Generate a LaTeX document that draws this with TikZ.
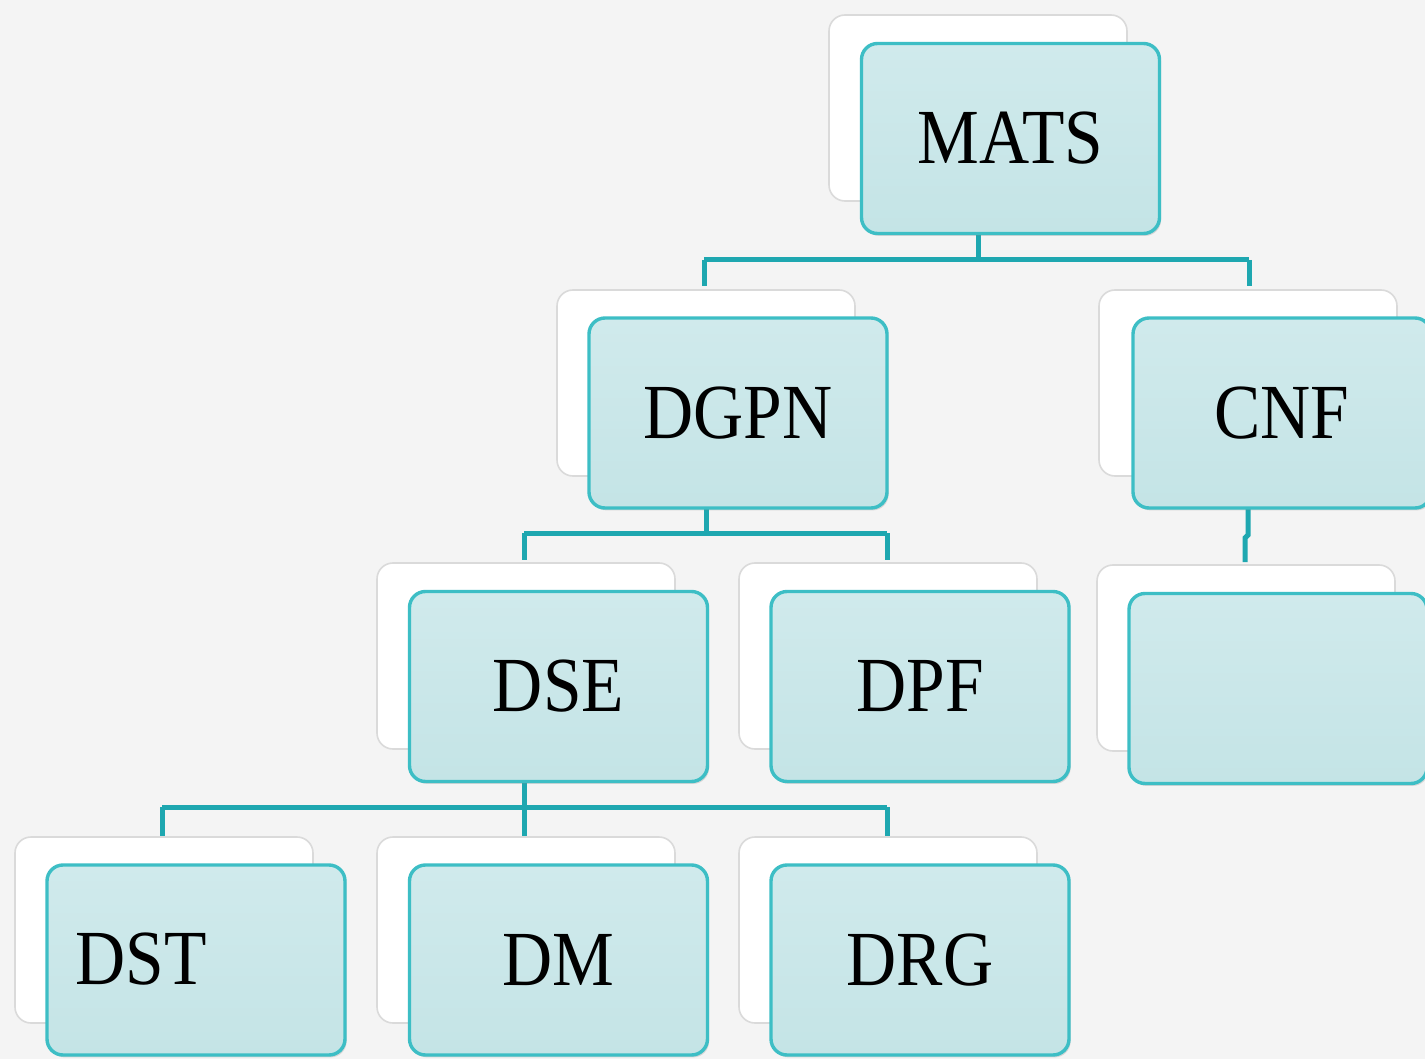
\documentclass[tikz,border=0pt]{standalone}
\usepackage{fontspec}
\setmainfont{Liberation Serif}
\usepackage{graphicx}
\usetikzlibrary{shadows}
\definecolor{bg}{HTML}{F4F4F4}
\definecolor{boxfill}{HTML}{C4E4E6}
\definecolor{boxtop}{HTML}{D0EAEC}
\definecolor{boxedge}{HTML}{3DBEC5}
\definecolor{connc}{HTML}{1EA7B0}
\definecolor{shedge}{HTML}{DADADA}
\tikzset{
  frontbox/.style={draw=boxedge, line width=1.7pt, rounded corners=8pt,
    top color=boxtop, bottom color=boxfill, minimum width=149pt, minimum height=95pt,
    inner sep=0pt, outer sep=0pt, font=\fontsize{39}{39}\selectfont,
    drop shadow={shadow xshift=0.8pt, shadow yshift=-1.2pt, opacity=0.25}},
  backbox/.style={draw=shedge, line width=0.8pt, fill=white, rounded corners=8pt,
    minimum width=149pt, minimum height=93pt, inner sep=0pt, outer sep=0pt},
  conn/.style={draw=connc, line width=2.5pt},
  lbl/.style={inner sep=0pt, font=\fontsize{39}{39}\selectfont}
}
\newcommand{\sq}[1]{\scalebox{0.89}[1]{#1}}
\begin{document}
\begin{tikzpicture}[x=0.5pt,y=-0.5pt]
\useasboundingbox (0,0) rectangle (1425,1059);
\clip (0,0) rectangle (1425,1059);
\fill[bg] (0,0) rectangle (1425,1059);
% back (white) boxes
\node[backbox] (bmats) at (978,108) {};
\node[backbox] (bdgpn) at (706,383) {};
\node[backbox] (bcnf) at (1248,383) {};
\node[backbox] (bblank) at (1246,658) {};
\node[backbox] (bdse) at (526,656) {};
\node[backbox] (bdpf) at (888,656) {};
\node[backbox] (bdst) at (164,930) {};
\node[backbox] (bdm) at (526,930) {};
\node[backbox] (bdrg) at (888,930) {};
% connectors
\coordinate (m0) at (978,234);
\coordinate (m1) at (978,260);
\coordinate (mL) at (704,260);
\coordinate (mR) at (1249,260);
\coordinate (dgT) at (704,286);
\coordinate (cnT) at (1249,286);
\draw[conn] (m0) -- (m1);
\draw[conn] (mL) -- (dgT);
\draw[conn] (mR) -- (cnT);
\draw[conn] (mL) -- (mR);
\coordinate (g0) at (706,508);
\coordinate (g1) at (706,533);
\coordinate (gL) at (524,533);
\coordinate (gR) at (887,533);
\coordinate (dsT) at (524,560);
\coordinate (dpT) at (887,560);
\draw[conn] (g0) -- (g1);
\draw[conn] (gL) -- (dsT);
\draw[conn] (gR) -- (dpT);
\draw[conn] (gL) -- (gR);
\coordinate (c0) at (1248,508);
\coordinate (c1) at (1248,535);
\coordinate (c2) at (1245,538);
\coordinate (blT) at (1245,562);
\draw[conn] (c0) -- (c1) -- (c2) -- (blT);
\coordinate (e0) at (524,782);
\coordinate (e1) at (524,807);
\coordinate (eL) at (162,807);
\coordinate (eR) at (887,807);
\coordinate (stT) at (162,836);
\coordinate (dmT) at (524,836);
\coordinate (drT) at (887,836);
\draw[conn] (e0) -- (e1);
\draw[conn] (eL) -- (stT);
\draw[conn] (e1) -- (dmT);
\draw[conn] (eR) -- (drT);
\draw[conn] (eL) -- (eR);
% front boxes
\node[frontbox] (mats) at (1010.5,138.5) {\sq{MATS}};
\node[frontbox] (dgpn) at (738,413) {\sq{DGPN}};
\node[frontbox] (cnf) at (1282,413) {\sq{CNF}};
\node[frontbox] (blank) at (1278,688.5) {};
\node[frontbox] (dse) at (558.5,686.5) {\sq{DSE}};
\node[frontbox] (dpf) at (920,686.5) {\sq{DPF}};
\node[frontbox] (dst) at (196,960) {};
\node[lbl] (dstlbl) at (141,959) {\sq{DST}};
\node[frontbox] (dm) at (558.5,960) {\sq{DM}};
\node[frontbox] (drg) at (920,960) {\sq{DRG}};
\end{tikzpicture}
\end{document}
